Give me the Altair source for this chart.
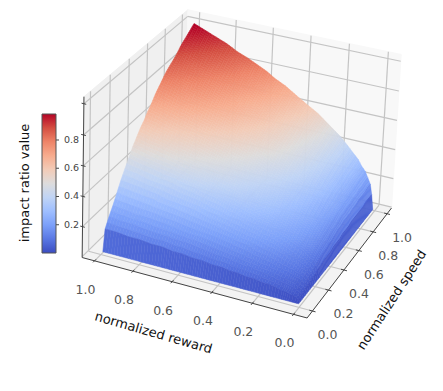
import math
import altair as alt

# camera fitted to the reference's box corners and ticks (reward, speed, z, 1) -> pixel
CAMERA = [[-193.728, 110.839, -0.420607, 299.009],
          [-41.8191, -76.8855, -161.755, 306.504],
          [0.0435392, 0.0940259, -0.0261937, 1]]
BOX_R = (-.065, 1.065)
BOX_S = (-.065, 1.065)
BOX_Z = (-.006, 1.045)
TICKS = [0, .2, .4, .6, .8, 1]
COLORBAR_TICKS = [.2, .4, .6, .8]
Z_MAX_COLOR = .984

reward = [.01, .02, .03, .045, .06, .08, .1, .13, .16, .2, .24, .28, .32, .36, .4, .45, .5, .55, .6, .65, .7, .76, .82, .88, .94, 1]
speed = [.02, .04, .08, .12, .16, .2, .24, .28, .32, .36, .4, .44, .48, .52, .56, .6, .64, .68, .72, .76, .8, .84, .88, .92, .96, 1]

# impact ratio in hundredths: one row per reward value, one column per speed value
impact = [
 [0]*26,
 [0,1,2,3,3,4,4,5,5,6,6,6,7,7,7,8,8,8,9,9,9,9,9,10,10,10],
 [0,2,3,4,5,6,7,8,9,10,10,11,11,12,13,13,14,14,14,15,15,16,16,16,17,17],
 [0,3,4,5,7,8,9,10,11,12,13,13,14,15,15,16,17,17,18,18,19,19,20,20,21,21],
 [0,3,5,6,8,9,10,11,13,14,15,16,16,17,18,19,20,20,21,21,22,22,23,24,24,25],
 [0,4,6,7,9,10,12,13,15,16,17,18,19,20,21,22,23,23,24,25,25,26,27,27,28,28],
 [0,4,6,8,10,12,13,15,16,18,19,20,21,22,23,24,25,26,27,27,28,29,30,30,31,32],
 [0,5,7,9,11,13,15,17,19,20,22,23,24,25,26,28,29,30,31,31,32,33,34,35,35,36],
 [0,6,8,10,12,15,17,19,21,22,24,25,27,28,29,31,32,33,34,35,36,37,38,38,39,40],
 [0,6,9,11,14,17,19,21,23,25,27,28,30,31,33,34,36,37,38,39,40,41,42,43,44,45],
 [0,7,10,12,15,18,21,23,25,27,29,31,33,34,36,38,39,40,42,43,44,45,46,47,48,49],
 [0,7,11,13,16,20,22,25,27,30,32,34,35,37,39,41,42,44,45,46,47,48,50,51,52,53],
 [0,8,11,14,18,21,24,26,29,32,34,36,38,40,42,44,45,47,48,49,50,52,53,54,55,57],
 [0,8,12,15,19,22,25,28,31,34,36,38,40,42,44,46,48,50,51,52,53,55,56,58,59,60],
 [0,9,13,16,20,23,27,29,33,35,38,40,42,44,46,49,51,52,54,55,56,58,59,61,62,63],
 [0,9,13,17,21,25,28,31,35,38,40,42,45,47,49,52,54,55,57,58,60,61,63,64,66,67],
 [0,10,14,18,22,26,30,33,36,40,42,45,47,50,52,54,57,58,60,62,63,65,66,68,69,71],
 [0,10,15,19,23,27,31,35,38,42,45,47,49,52,55,57,59,61,63,65,66,68,70,71,73,74],
 [0,11,16,19,24,29,33,36,40,43,47,49,52,54,57,60,62,64,66,67,69,71,73,74,76,78],
 [0,11,16,20,25,30,34,38,42,45,48,51,54,56,59,62,65,67,69,70,72,74,76,77,79,81],
 [0,12,17,21,26,31,35,39,43,47,50,53,56,59,62,64,67,69,71,73,75,77,79,80,82,84],
 [0,12,17,22,27,32,37,41,45,49,52,55,58,61,64,67,70,72,74,76,78,80,82,84,85,87],
 [0,13,18,23,28,34,38,42,47,51,54,57,60,63,67,70,72,75,77,79,81,83,85,87,89,91],
 [0,13,19,23,29,35,39,44,48,53,56,59,62,66,69,72,75,77,80,82,83,86,88,90,92,94],
 [0,14,19,24,30,36,41,45,50,54,58,61,65,68,71,75,78,80,82,84,86,89,91,93,95,97],
 [0,14,20,25,31,37,42,47,52,56,60,63,67,70,74,77,80,83,85,87,89,92,94,96,98,100],
]

coolwarm = ['#3b4cc0','#5977e3','#7b9ff9','#9ebeff','#c0d4f5','#dddcdc','#f2cbb7','#f7ac8e','#ee8468','#d44e41','#b40426']

rL, rH = BOX_R
sL, sH = BOX_S
zL, zH = BOX_Z


def proj(r, s, z):
    v = (r, s, z, 1.0)
    a, b, c = [sum(m * n for m, n in zip(row, v)) for row in CAMERA]
    return a / c, b / c


def feat(poly, z):
    c = [list(proj(*q)) for q in poly]
    c.append(c[0])
    return {"type": "Feature", "geometry": {"type": "Polygon", "coordinates": [c]}, "properties": {"z": z}}


GP = dict(type='identity', scale=1, translate=[-8, -8])
X = alt.X('x:Q', scale=alt.Scale(domain=[8, 435], range=[0, 427], nice=False, zero=False), axis=None)
Y = alt.Y('y:Q', scale=alt.Scale(domain=[8, 383], range=[0, 375], nice=False, zero=False), axis=None)

panes = [([(rH, sL, zL), (rH, sH, zL), (rH, sH, zH), (rH, sL, zH)], "#f0f0f0"),
         ([(rH, sH, zL), (rL, sH, zL), (rL, sH, zH), (rH, sH, zH)], "#f8f8f8"),
         ([(rH, sL, zL), (rL, sL, zL), (rL, sH, zL), (rH, sH, zL)], "#f3f3f3")]
pane = alt.layer(*[alt.Chart(alt.Data(values=[feat(q, 0)])).mark_geoshape(fill=c, stroke=c, strokeWidth=1).project(**GP) for q, c in panes])

k = 0


def seg(a, b, lst):
    global k
    for q in (a, b):
        x, y = proj(*q)
        lst.append({"x": x, "y": y, "k": k})
    k += 1


gr = []
for v in TICKS:
    seg((v, sL, zL), (v, sH, zL), gr)
    seg((v, sH, zL), (v, sH, zH), gr)
    seg((rL, v, zL), (rH, v, zL), gr)
    seg((rH, v, zL), (rH, v, zH), gr)
    seg((rH, sL, v), (rH, sH, v), gr)
    seg((rH, sH, v), (rL, sH, v), gr)
grid = alt.Chart(alt.Data(values=gr)).mark_line(color='#c4c4c4', strokeWidth=1.2).encode(x=X, y=Y, detail='k:N')

ax = []
seg((rH, sL, zL), (rL, sL, zL), ax)
seg((rL, sL, zL), (rL, sH, zL), ax)
seg((rH, sL, zL), (rH, sL, zH), ax)
for v in TICKS:
    seg((v, sL - .015, zL), (v, sL + .015, zL), ax)
    seg((rL - .015, v, zL), (rL + .015, v, zL), ax)
    if v > 0:
        seg((rH + .012, sL, v), (rH - .012, sL, v), ax)

# colour bar: one gradient rectangle, its ticks and labels
BAR = {"x": 42, "x2": 56, "y": 114, "y2": 253}


def bar_y(v):
    return BAR["y2"] - v / Z_MAX_COLOR * (BAR["y2"] - BAR["y"])


cbar_lab = []
for v in COLORBAR_TICKS:
    ax.append({"x": BAR["x2"], "y": bar_y(v), "k": k})
    ax.append({"x": BAR["x2"] + 3, "y": bar_y(v), "k": k})
    k += 1
    cbar_lab.append({"x": BAR["x2"] + 8, "y": bar_y(v), "t": f"{v:.1f}"})
axes = alt.Chart(alt.Data(values=ax)).mark_line(color='#444444', strokeWidth=1).encode(x=X, y=Y, detail='k:N')
grad = alt.Gradient(gradient='linear', x1=0, x2=0, y1=1, y2=0,
                    stops=[alt.GradientStop(color=c, offset=i / 10) for i, c in enumerate(coolwarm)])
cbar = alt.Chart(alt.Data(values=[BAR])).mark_rect(fill=grad, stroke='#555555', strokeWidth=1).encode(
    x=X, y=Y, x2='x2:Q', y2='y2:Q')
cbar_txt = alt.Chart(alt.Data(values=cbar_lab)).mark_text(font='DejaVu Sans', fontSize=9.5, color='#444444', align='left').encode(x=X, y=Y, text='t:N')

# painter's order, far corner first; each table cell is smooth-shaded with a few facets
cells = []
for i in range(len(reward) - 1, 0, -1):
    nr = max(1, math.ceil((reward[i] - reward[i - 1]) / .015 - 1e-9))
    for a in range(nr - 1, -1, -1):
        for j in range(len(speed) - 1, 0, -1):
            ns = 1 if j == 1 else (2 if speed[j] <= .28 else 3)
            for b in range(ns - 1, -1, -1):
                q = []
                for ta, tb in ((a, b), (a + 1, b), (a + 1, b + 1), (a, b + 1)):
                    u, w = ta / nr, tb / ns
                    zv = ((1 - u) * (1 - w) * impact[i - 1][j - 1] + u * (1 - w) * impact[i][j - 1]
                          + u * w * impact[i][j] + (1 - u) * w * impact[i - 1][j]) / 100
                    q.append((reward[i - 1] + u * (reward[i] - reward[i - 1]),
                              speed[j - 1] + w * (speed[j] - speed[j - 1]), zv))
                cells.append(feat(q, round(sum(p[2] for p in q) / 4, 4)))

cs = alt.Scale(domain=[0, Z_MAX_COLOR], range=coolwarm, interpolate='rgb')
surf = alt.Chart(alt.Data(values=cells)).mark_geoshape(strokeWidth=.5).encode(
    fill=alt.Fill('properties.z:Q', scale=cs, legend=None),
    stroke=alt.Stroke('properties.z:Q', scale=cs, legend=None)).project(**GP)

lab = []
for v in TICKS:
    x, y = proj(v, sL, zL)
    lab.append({"x": x - 9, "y": y + 29, "t": f"{v:.1f}"})
    x, y = proj(rL, v, zL)
    lab.append({"x": x + 15, "y": y + 24, "t": f"{v:.1f}"})
txt = alt.Chart(alt.Data(values=lab)).mark_text(font='DejaVu Sans', fontSize=12.5, color='#555555').encode(x=X, y=Y, text='t:N')

titles = [("normalized reward", 153.5, 333, 16), ("normalized speed", 392, 300, 303), ("impact ratio value", 25, 183, 270)]
ti = alt.layer(*[alt.Chart(alt.Data(values=[{"x": a, "y": b, "t": n}])).mark_text(font='DejaVu Sans', fontSize=13, angle=an, color='#111111').encode(x=X, y=Y, text='t:N') for n, a, b, an in titles])

chart = alt.layer(pane, grid, axes, surf, cbar, cbar_txt, txt, ti).properties(
    width=427, height=375, padding=0, autosize=alt.AutoSizeParams(type='none')).configure_view(stroke=None)
chart.save("out.html", embed_options={"renderer": "svg", "actions": False})
